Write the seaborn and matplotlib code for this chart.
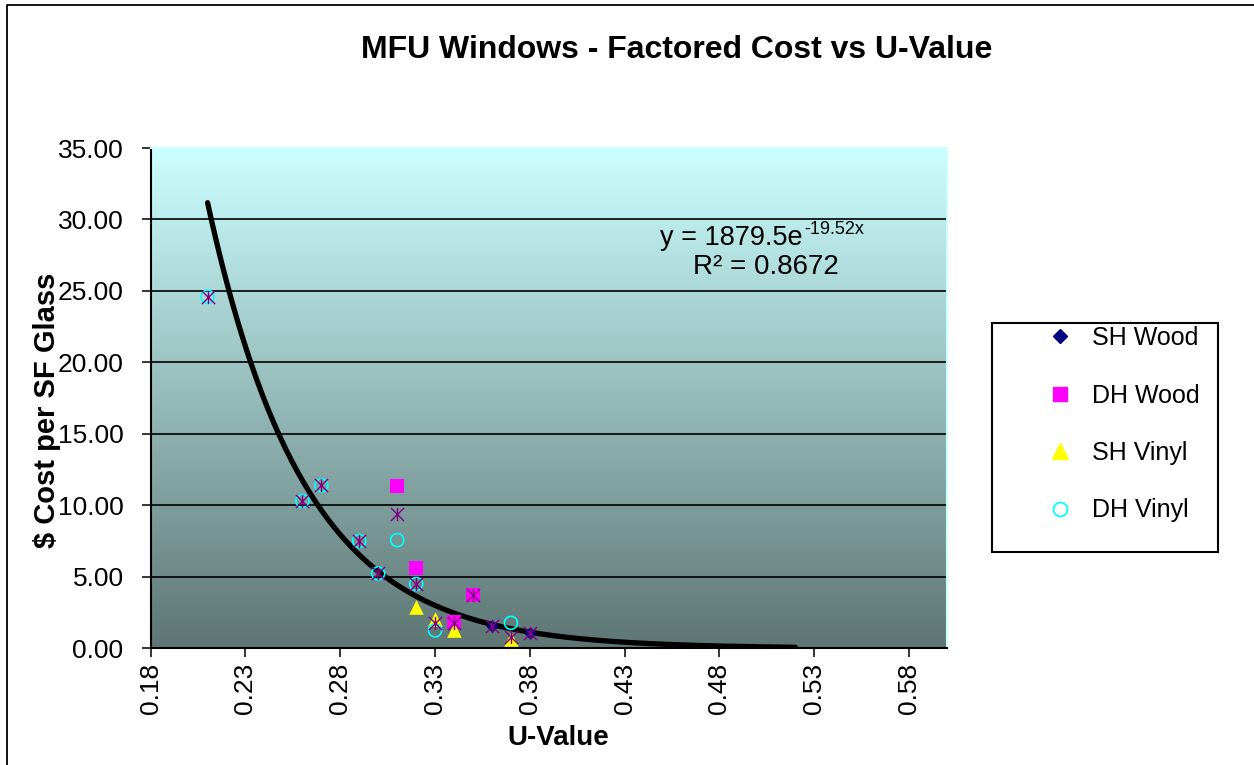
import numpy as np
import pandas as pd
import matplotlib
matplotlib.use("Agg")
import matplotlib.pyplot as plt
import seaborn as sns
from matplotlib.path import Path
from matplotlib.lines import Line2D
from matplotlib.patches import Rectangle

# ---------------- data ----------------
sh_wood_u = [0.36, 0.38]
sh_wood_cost = [1.58, 1.05]
dh_wood_u = [0.31, 0.32, 0.34, 0.35]
dh_wood_cost = [11.35, 5.64, 1.86, 3.70]
sh_vinyl_u = [0.32, 0.33, 0.34, 0.37]
sh_vinyl_cost = [2.91, 2.05, 1.25, 0.65]
dh_vinyl_u = [0.21, 0.26, 0.27, 0.29, 0.30, 0.31, 0.32, 0.33, 0.37]
dh_vinyl_cost = [24.6, 10.3, 11.4, 7.5, 5.24, 7.57, 4.5, 1.25, 1.78]
all_u = [0.21, 0.26, 0.27, 0.29, 0.30, 0.31, 0.32, 0.33, 0.34, 0.35, 0.36, 0.37, 0.38]
all_cost = [24.6, 10.3, 11.4, 7.5, 5.24, 9.4, 4.5, 1.8, 1.8, 3.7, 1.58, 0.8, 1.05]

# exponential trendline as labelled on the chart: y = a * exp(b x)
trend_a = 1879.5
trend_b = -19.52
trend_start, trend_end = 0.21, 0.52
trend_label_1 = "y = 1879.5e"
trend_label_sup = "-19.52x"
trend_label_2 = "R² = 0.8672"

x_ticks = [0.18, 0.23, 0.28, 0.33, 0.38, 0.43, 0.48, 0.53, 0.58]
x_tick_labels = ["0.18", "0.23", "0.28", "0.33", "0.38", "0.43", "0.48", "0.53", "0.58"]
y_ticks = [0, 5, 10, 15, 20, 25, 30, 35]
y_tick_labels = ["0.00", "5.00", "10.00", "15.00", "20.00", "25.00", "30.00", "35.00"]

series_names = ["SH Wood", "DH Wood", "SH Vinyl", "DH Vinyl"]

# ---------------- style ----------------
sns.set_style("ticks")
plt.rcParams["font.family"] = ["Liberation Sans", "DejaVu Sans"]
plt.rcParams["text.color"] = "black"
plt.rcParams["axes.labelcolor"] = "black"

W, H = 1254, 765
fig = plt.figure(figsize=(W / 100, H / 100), dpi=100)
fig.patch.set_facecolor("white")

# plot area in pixels
px_l, px_r, px_t, px_b = 150.7, 947.0, 148.0, 648.3
ax = fig.add_axes([px_l / W, 1 - px_b / H, (px_r - px_l) / W, (px_b - px_t) / H])

ax.set_xlim(0.18, 0.60)
ax.set_ylim(0, 35)

# gradient background
top_c = np.array([204, 255, 255]) / 255.0
bot_c = np.array([94, 118, 116]) / 255.0
t = np.linspace(0, 1, 256)[:, None]
grad = (top_c[None, :] * (1 - t) + bot_c[None, :] * t)[:, None, :]
ax.imshow(grad, extent=[0.18, 0.60, 0, 35], aspect="auto", origin="upper", zorder=0,
          interpolation="bilinear")
ax.set_facecolor("white")

# horizontal gridlines
ax.set_axisbelow(True)
ax.set_yticks(y_ticks)
ax.set_yticklabels(y_tick_labels)
ax.set_xticks(x_ticks)
ax.set_xticklabels(x_tick_labels, rotation=90)
ax.yaxis.grid(True, color="black", linewidth=1.2)
ax.xaxis.grid(False)
gl = ax.get_ygridlines()
gl[0].set_visible(False)
gl[-1].set_visible(False)

# trendline
tx = np.linspace(trend_start, trend_end, 300)
trend_df = pd.DataFrame({"u": tx, "cost": trend_a * np.exp(trend_b * tx)})
sns.lineplot(data=trend_df, x="u", y="cost", ax=ax, color="black", linewidth=3.8,
             zorder=3, legend=False)

# star marker (Excel style: X with vertical bar)
star_path = Path(
    [(-1, -1), (1, 1), (-1, 1), (1, -1), (0, -1), (0, 1)],
    [Path.MOVETO, Path.LINETO, Path.MOVETO, Path.LINETO, Path.MOVETO, Path.LINETO],
)

navy = "#000080"
magenta = "#FF00FF"
yellow = "#FFFF00"
cyan = "#00FFFF"
purple = "#800080"

sns.scatterplot(x=sh_wood_u, y=sh_wood_cost, ax=ax, marker="D", s=34, color=navy,
                edgecolor=navy, linewidth=0.5, zorder=4, legend=False)
sns.scatterplot(x=dh_wood_u, y=dh_wood_cost, ax=ax, marker="s", s=100, color=magenta,
                edgecolor=magenta, linewidth=0, zorder=4, legend=False)
sns.scatterplot(x=sh_vinyl_u, y=sh_vinyl_cost, ax=ax, marker="^", s=110, color=yellow,
                edgecolor=yellow, linewidth=0, zorder=4, legend=False)
sns.scatterplot(x=dh_vinyl_u, y=dh_vinyl_cost, ax=ax, marker="o", s=88, facecolor="none",
                edgecolor=cyan, linewidth=1.2, zorder=4, legend=False)
sns.scatterplot(x=all_u, y=all_cost, ax=ax, marker=star_path, s=90, color=purple,
                edgecolor=purple, linewidth=1.0, zorder=5, legend=False)

# axes styling
for side in ["left", "bottom"]:
    ax.spines[side].set_color("black")
    ax.spines[side].set_linewidth(1.5)
for side in ["top", "right"]:
    ax.spines[side].set_color("#CCFFFF")
    ax.spines[side].set_linewidth(1.5)
    ax.spines[side].set_visible(True)
ax.spines["bottom"].set_zorder(6)

ax.tick_params(axis="both", direction="out", length=6.5, width=1.1, color="black",
               labelsize=19, labelcolor="black")
ax.tick_params(axis="y", pad=13)
ax.tick_params(axis="x", pad=4)

ax.set_xlabel("U-Value", fontsize=20, fontweight="bold", color="black")
ax.set_ylabel("$ Cost per SF Glass", fontsize=21, fontweight="bold", color="black")
ax.xaxis.label.set_va("center")
ax.xaxis.set_label_coords((558 - px_l) / (px_r - px_l), (px_b - 738) / (px_b - px_t))
ax.yaxis.label.set_va("center")
ax.yaxis.set_label_coords((47.5 - px_l) / (px_r - px_l), (px_b - 410) / (px_b - px_t))

# trendline label
fig.text(803 / W, 1 - 238 / H, trend_label_1, fontsize=19.5, ha="right", va="center",
         color="black")
fig.text(804 / W, 1 - 230 / H, trend_label_sup, fontsize=13, ha="left", va="center",
         color="black")
fig.text(766 / W, 1 - 267 / H, trend_label_2, fontsize=20, ha="center", va="center",
         color="black")

# title
fig.text(677 / W, 1 - 50 / H, "MFU Windows - Factored Cost vs U-Value", fontsize=23,
         fontweight="bold", ha="center", va="center", color="black")

# legend box
fig.add_artist(Rectangle((991.7 / W, 1 - 552 / H), (1218 - 991.7) / W, (552 - 323) / H,
                         transform=fig.transFigure, fill=False, edgecolor="black",
                         linewidth=1.5))
handles = [
    Line2D([], [], linestyle="none", marker="D", markersize=7.5, color=navy),
    Line2D([], [], linestyle="none", marker="s", markersize=10.5, color=magenta),
    Line2D([], [], linestyle="none", marker="^", markersize=11, color=yellow),
    Line2D([], [], linestyle="none", marker="o", markersize=10, markerfacecolor="none",
           markeredgecolor=cyan, markeredgewidth=1.3),
]
fig.legend(handles, series_names, loc="upper left",
           bbox_to_anchor=(1047.5 / W, 1 - 326 / H), frameon=False, fontsize=18,
           handlelength=1.0, handletextpad=0.78, labelspacing=1.34, borderpad=0,
           borderaxespad=0, labelcolor="black")

# outer chart border (left and top edges visible)
fig.add_artist(Line2D([7 / W, 7 / W, 1.0], [0.0, 1 - 5 / H, 1 - 5 / H],
                      transform=fig.transFigure, color="black", linewidth=1.3))

fig.savefig("out.png", dpi=100)
